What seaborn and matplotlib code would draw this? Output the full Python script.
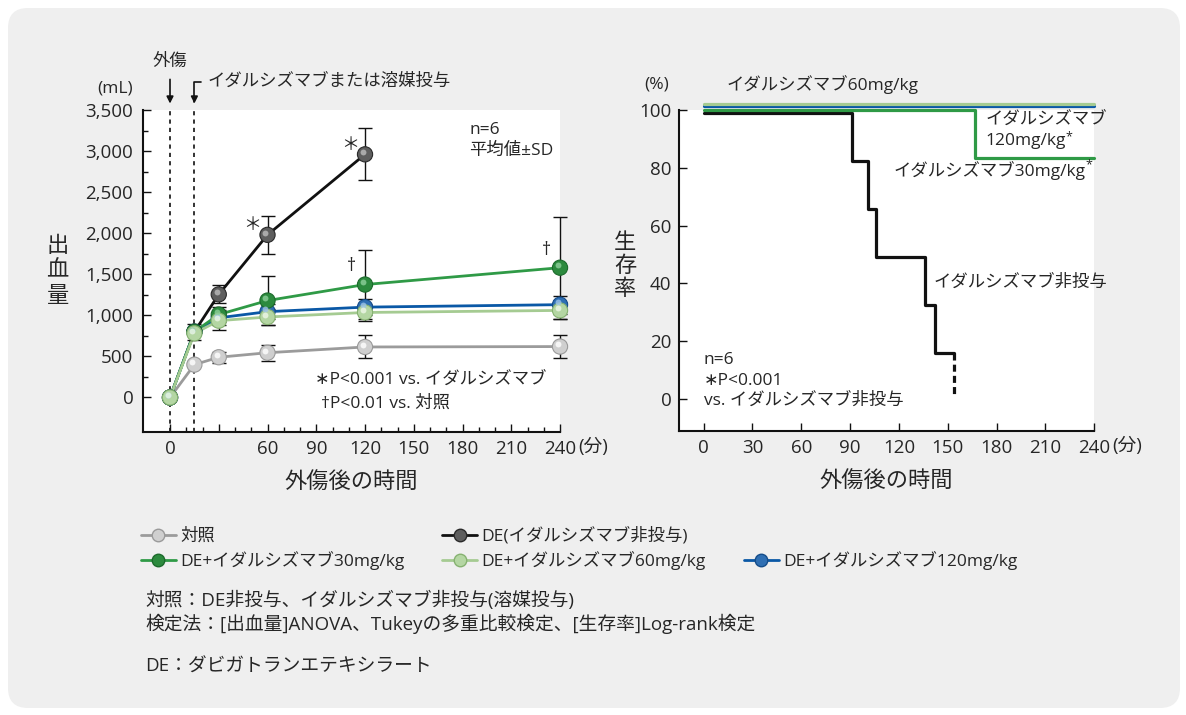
import matplotlib
matplotlib.use("Agg")
import matplotlib.pyplot as plt
import matplotlib.transforms as mtransforms
from matplotlib.lines import Line2D
from matplotlib.patches import FancyBboxPatch
from matplotlib.ticker import FixedLocator, FuncFormatter
import pandas as pd
import seaborn as sns

# Bleeding volume (mL), mean and SD per sampling time (min after trauma).
TIME_MIN = [0, 15, 30, 60, 120, 240]
DE_TIME_MIN = [0, 15, 30, 60, 120]
CONTROL_MEAN = [0, 400, 490, 545, 615, 620]
CONTROL_SD = [0, 0, 65, 95, 140, 135]
DE_MEAN = [0, 800, 1255, 1980, 2960]
DE_SD = [0, 100, 110, 230, 315]
IDA30_MEAN = [0, 800, 1010, 1180, 1375, 1580]
IDA30_SD = [0, 0, 90, 300, 420, 620]
IDA60_MEAN = [0, 780, 935, 980, 1035, 1060]
IDA60_SD = [0, 0, 110, 100, 100, 100]
IDA120_MEAN = [0, 800, 970, 1045, 1100, 1130]
IDA120_SD = [0, 0, 90, 90, 100, 110]

# Survival (%) step curves.
SURV_DE_TIME = [0, 91, 101, 106, 136, 142, 154]
SURV_DE = [100, 83.3, 66.7, 50.0, 33.3, 16.7, 16.7]
SURV_DE_LAST_DEATH = 154
SURV_IDA30_TIME = [0, 167, 240]
SURV_IDA30 = [100, 83.3, 83.3]
SURV_FLAT_TIME = [0, 240]
SURV_IDA60 = [100, 100]
SURV_IDA120 = [100, 100]

LBL_CTRL = "対照"
LBL_DE = "DE(イダルシズマブ非投与)"
LBL_30 = "DE+イダルシズマブ30mg/kg"
LBL_60 = "DE+イダルシズマブ60mg/kg"
LBL_120 = "DE+イダルシズマブ120mg/kg"

# draw order (later on top)
ORDER = [LBL_CTRL, LBL_DE, LBL_120, LBL_30, LBL_60]
LINE_C = {LBL_CTRL: "#9b9b9b", LBL_DE: "#111111", LBL_30: "#2f9a46",
          LBL_60: "#a5cb92", LBL_120: "#0a58a6"}
FACE_C = {LBL_CTRL: "#cfcfcf", LBL_DE: "#5e5e5e", LBL_30: "#2c8a3e",
          LBL_60: "#b4d6a3", LBL_120: "#2f6fb3"}
EDGE_C = {LBL_CTRL: "#9a9a9a", LBL_DE: "#2a2a2a", LBL_30: "#1c6a2c",
          LBL_60: "#86b271", LBL_120: "#154d8a"}
HI_C = {LBL_CTRL: "#ffffff", LBL_DE: "#bdbdbd", LBL_30: "#8fd09b",
        LBL_60: "#eef7e8", LBL_120: "#9cc3ea"}

sns.set_style("ticks")
plt.rcParams["font.family"] = ["Open Sans", "Noto Sans CJK JP", "DejaVu Sans"]
plt.rcParams["axes.unicode_minus"] = False

FS = 12.5
CJK = ["Noto Sans CJK JP", "DejaVu Sans"]

fig = plt.figure(figsize=(11.86, 7.15), dpi=100, facecolor="white")
fig.patches.append(FancyBboxPatch(
    (0.08, 0.07), 11.72, 7.0, boxstyle="round,pad=0,rounding_size=0.2",
    transform=fig.dpi_scale_trans, facecolor="#efefef", edgecolor="none",
    zorder=-10))

ax1 = fig.add_axes([0.1206, 0.3958, 0.3516, 0.4504])
ax2 = fig.add_axes([0.5721, 0.3972, 0.3506, 0.4490])

# ---------------- left: bleeding volume ----------------
frames = []
for lbl, t, m, s in [
    (LBL_CTRL, TIME_MIN, CONTROL_MEAN, CONTROL_SD),
    (LBL_DE, DE_TIME_MIN, DE_MEAN, DE_SD),
    (LBL_120, TIME_MIN, IDA120_MEAN, IDA120_SD),
    (LBL_30, TIME_MIN, IDA30_MEAN, IDA30_SD),
    (LBL_60, TIME_MIN, IDA60_MEAN, IDA60_SD),
]:
    frames.append(pd.DataFrame({"group": lbl, "time": t, "mean": m, "sd": s}))
bleed = pd.concat(frames, ignore_index=True)

sns.lineplot(data=bleed, x="time", y="mean", hue="group", hue_order=ORDER,
             palette=LINE_C, estimator=None, sort=False, linewidth=2.0,
             legend=False, ax=ax1, zorder=2)
for lbl in ORDER:
    d = bleed[(bleed["group"] == lbl) & (bleed["sd"] > 0)]
    ax1.errorbar(d["time"], d["mean"], yerr=d["sd"], fmt="none",
                 ecolor="#111111", elinewidth=1.0, capsize=5, capthick=1.0,
                 zorder=2.5, clip_on=False)
sns.scatterplot(data=bleed, x="time", y="mean", hue="group", hue_order=ORDER,
                palette=FACE_C, s=120, linewidth=0.8,
                edgecolor=[EDGE_C[g] for g in bleed["group"]],
                legend=False, ax=ax1, zorder=3, clip_on=False)
hi_tr = ax1.transData + mtransforms.ScaledTranslation(-1.6 / 72, 1.6 / 72,
                                                       fig.dpi_scale_trans)
for lbl in ORDER:
    d = bleed[bleed["group"] == lbl]
    ax1.scatter(d["time"], d["mean"], s=18, color=HI_C[lbl], alpha=0.8,
                linewidths=0, transform=hi_tr, zorder=3.2, clip_on=False)

ax1.set_xlim(-16.6, 240)
ax1.set_ylim(-420, 3500)
ax1.set_xticks(range(0, 241, 30))
ax1.set_xticklabels(["0", "", "60", "90", "120", "150", "180", "210", "240"])
ax1.xaxis.set_minor_locator(FixedLocator([v for v in range(10, 240, 10) if v % 30]))
ax1.set_yticks(range(0, 3501, 500))
ax1.yaxis.set_major_formatter(FuncFormatter(lambda v, _: f"{int(v):,}"))
ax1.yaxis.set_minor_locator(FixedLocator(range(250, 3500, 500)))

for ax in (ax1, ax2):
    ax.set_facecolor("white")
    for side in ("top", "right"):
        ax.spines[side].set_visible(False)
    for side in ("left", "bottom"):
        ax.spines[side].set_linewidth(1.5)
        ax.spines[side].set_color("#111111")
    ax.tick_params(which="major", direction="in", length=6, width=1.0,
                   labelsize=13.5, color="#111111")
    ax.tick_params(which="minor", direction="in", length=3.5, width=1.0,
                   color="#111111")
    ax.set_ylabel("")
    ax.set_xlabel("外傷後の時間", fontsize=16, labelpad=9, family=CJK)
    # unit after the last tick label
    ax.text(1.043, -0.047, "(分)", transform=ax.transAxes, fontsize=13.5,
            ha="left", va="center")
ax1.tick_params(axis="y", pad=7)
ax1.tick_params(axis="x", pad=6)
ax2.tick_params(axis="y", pad=5)
ax2.tick_params(axis="x", pad=6)


def stacked_label(ax, x, y_top, chars, step):
    """Vertical (top-to-bottom) label, one upright character per row."""
    for i, ch in enumerate(chars):
        ax.text(x, y_top - i * step, ch, transform=ax.transAxes, fontsize=16,
                ha="center", va="center", family=CJK)


# trauma / dosing dashed lines
for t in (0, 15):
    ax1.axvline(t, color="#111111", lw=1.2, ls=(0, (2.5, 2.5)), zorder=1)

ax1.text(-0.067, 1.068, "(mL)", transform=ax1.transAxes, fontsize=FS,
         ha="center", va="center")
stacked_label(ax1, -0.205, 0.58, "出血量", 0.078)
trans_x = mtransforms.blended_transform_factory(ax1.transData, ax1.transAxes)
ax1.annotate("", xy=(0, 1.02), xytext=(0, 1.095), xycoords=trans_x,
             textcoords=trans_x,
             arrowprops=dict(arrowstyle="-|>", color="#111111", lw=1.2,
                             mutation_scale=10, shrinkA=0, shrinkB=0))
ax1.text(0, 1.15, "外傷", transform=trans_x, fontsize=FS, ha="center",
         va="center")
ax1.annotate("イダルシズマブまたは溶媒投与", xy=(15, 1.02), xytext=(23, 1.087),
             xycoords=trans_x, textcoords=trans_x, fontsize=FS, ha="left",
             va="center",
             arrowprops=dict(arrowstyle="-|>", color="#111111", lw=1.2,
                             mutation_scale=10, shrinkA=2, shrinkB=0,
                             connectionstyle="angle,angleA=0,angleB=90,rad=0"))

ax1.text(184, 3130, "n=6\n平均値±SD", fontsize=FS, ha="left", va="center",
         linespacing=1.35)
ax1.text(89, 200, "∗P<0.001 vs. イダルシズマブ", fontsize=FS, ha="left",
         va="center")
ax1.text(93, -75, "†P<0.01 vs. 対照", fontsize=FS, ha="left", va="center")

# significance marks
de = bleed[bleed["group"] == LBL_DE]
for t, m in zip(de["time"], de["mean"]):
    if t >= 60:
        ax1.annotate("＊", xy=(t, m), xytext=(-11, 7), textcoords="offset points",
                     fontsize=13, ha="center", va="center", family=CJK)
g30 = bleed[bleed["group"] == LBL_30]
for t, m in zip(g30["time"], g30["mean"]):
    if t >= 120:
        ax1.annotate("†", xy=(t, m), xytext=(-10, 13), textcoords="offset points",
                     fontsize=13, ha="center", va="center")

# ---------------- right: survival ----------------
surv = pd.concat([
    pd.DataFrame({"group": "60", "time": SURV_FLAT_TIME, "surv": SURV_IDA60}),
    pd.DataFrame({"group": "120", "time": SURV_FLAT_TIME, "surv": SURV_IDA120}),
    pd.DataFrame({"group": "30", "time": SURV_IDA30_TIME, "surv": SURV_IDA30}),
    pd.DataFrame({"group": "none", "time": SURV_DE_TIME, "surv": SURV_DE}),
], ignore_index=True)
# small vertical offsets so overlapping 100% lines stay visible
offset = {"60": 2.2, "120": 1.2, "30": 0.0, "none": -0.9}
surv["y"] = surv["surv"] + surv["group"].map(offset)
km_colors = {"60": LINE_C[LBL_60], "120": LINE_C[LBL_120],
             "30": LINE_C[LBL_30], "none": "#111111"}
for g in ["none", "30", "120", "60"]:
    d = surv[surv["group"] == g]
    sns.lineplot(data=d, x="time", y="y", color=km_colors[g], linewidth=2.3,
                 drawstyle="steps-post", estimator=None, sort=False,
                 ax=ax2, clip_on=False, zorder=3)
ax2.plot([SURV_DE_LAST_DEATH, SURV_DE_LAST_DEATH], [SURV_DE[-1] - 0.9, 1],
         color="#111111", lw=2.3, ls=(0, (2.2, 1.3)), zorder=3)

ax2.set_xlim(-15.4, 240)
ax2.set_ylim(-11.1, 100)
ax2.set_xticks(range(0, 241, 30))
ax2.set_yticks(range(0, 101, 20))
ax2.set_ylabel("")

ax2.text(-0.052, 1.078, "(%)", transform=ax2.transAxes, fontsize=FS,
         ha="center", va="center")
stacked_label(ax2, -0.128, 0.588, "生存率", 0.072)
trans_x2 = mtransforms.blended_transform_factory(ax2.transData, ax2.transAxes)
ax2.text(14, 1.078, "イダルシズマブ60mg/kg", transform=trans_x2, fontsize=FS,
         ha="left", va="center")
ax2.text(173, 96.4, "イダルシズマブ", fontsize=FS, ha="left", va="center")
t120 = ax2.text(173, 89.2, "120mg/kg", fontsize=FS, ha="left", va="center")
t30 = ax2.text(116.5, 79.2, "イダルシズマブ30mg/kg", fontsize=FS, ha="left",
               va="center")
for txt in (t120, t30):
    ax2.annotate("*", xy=(1.0, 0.78), xycoords=txt, fontsize=9, ha="left",
                 va="center")
ax2.text(141, 40.1, "イダルシズマブ非投与", fontsize=FS, ha="left", va="center")
ax2.text(0, 6.3, "n=6\n∗P<0.001\nvs. イダルシズマブ非投与", fontsize=FS,
         ha="left", va="center", linespacing=1.35)

# ---------------- legend & notes ----------------
def handle(lbl):
    return Line2D([], [], color=LINE_C[lbl], lw=2.0, marker="o",
                  markersize=9, markerfacecolor=FACE_C[lbl],
                  markeredgecolor=EDGE_C[lbl], label=lbl)

blank = Line2D([], [], color="none", label=" ")
handles = [handle(LBL_CTRL), handle(LBL_30), handle(LBL_DE), handle(LBL_60),
           blank, handle(LBL_120)]
fig.legend(handles=handles, loc="upper left", bbox_to_anchor=(0.113, 0.272),
           ncol=3, frameon=False, fontsize=FS, handlelength=2.0,
           handletextpad=0.25, columnspacing=2.2, labelspacing=0.35,
           borderaxespad=0)

NOTE_FS = 13.5
fig.text(0.1225, 1 - 600 / 715, "対照：DE非投与、イダルシズマブ非投与(溶媒投与)",
         fontsize=NOTE_FS, ha="left", va="center")
fig.text(0.1225, 1 - 624 / 715,
         "検定法：[出血量]ANOVA、Tukeyの多重比較検定、[生存率]Log-rank検定",
         fontsize=NOTE_FS, ha="left", va="center")
fig.text(0.1225, 1 - 667 / 715, "DE：ダビガトランエテキシラート",
         fontsize=NOTE_FS, ha="left", va="center")

fig.savefig("out.png", dpi=100, facecolor=fig.get_facecolor())
